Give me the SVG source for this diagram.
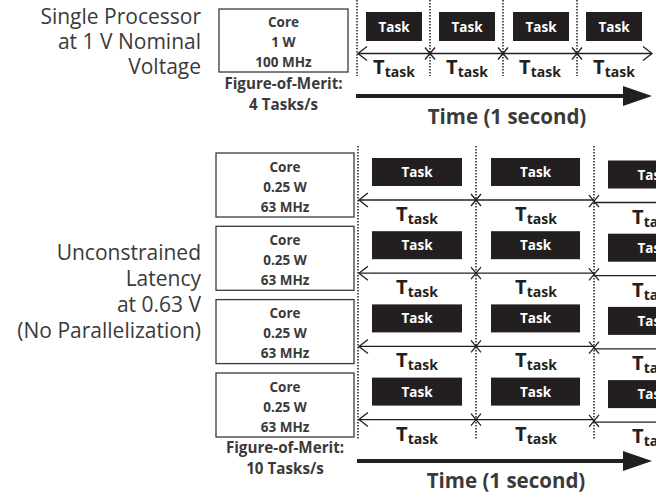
<svg xmlns="http://www.w3.org/2000/svg" width="656" height="497" viewBox="0 0 656 497">
<style>
text{font-family:"Open Sans","Liberation Sans",sans-serif;}
.lbl{font-size:21px;fill:#3a3a3a;text-anchor:end;}
.core{font-size:13.5px;font-weight:bold;fill:#3a3a3a;text-anchor:middle;}
.fom{font-size:15.2px;font-weight:bold;fill:#3a3a3a;text-anchor:middle;}
.box{fill:#fff;stroke:#3a3a3a;stroke-width:1.3;}
.task{fill:#231f20;}
.tk{font-size:13.5px;font-weight:bold;fill:#fff;text-anchor:middle;}
.tt{font-size:20px;font-weight:bold;fill:#231f20;text-anchor:middle;}
.sub{font-size:14px;}
.dot{stroke:#231f20;stroke-width:1.5;stroke-dasharray:1.5 1.5;fill:none;}
.dur{stroke:#231f20;stroke-width:1.3;fill:none;}
.time{stroke:#231f20;stroke-width:4;fill:none;marker-end:url(#solid);}
.xm{stroke:#231f20;stroke-width:1.3;fill:none;}
.title{font-size:20.5px;font-weight:bold;fill:#3a3a3a;text-anchor:middle;}
</style>
<defs>
<marker id="open" markerUnits="userSpaceOnUse" markerWidth="12" markerHeight="16" viewBox="-1 -1 12 16" refX="9" refY="7" orient="auto-start-reverse">
<path d="M0,0 L9,7 L0,14" fill="none" stroke="#231f20" stroke-width="1.3"/>
</marker>
<marker id="solid" markerUnits="userSpaceOnUse" markerWidth="30" markerHeight="22" viewBox="0 0 30 22" refX="3" refY="10" orient="auto">
<path d="M0,0 L29,10 L0,20 z" fill="#231f20"/>
</marker>
<path id="x" class="xm" d="M-5,-6 L5,6 M-5,6 L5,-6"/>
</defs>

<!-- left labels -->
<g id="label-top">
<text class="lbl" x="201" y="24">Single Processor</text>
<text class="lbl" x="201" y="49">at 1 V Nominal</text>
<text class="lbl" x="201" y="74">Voltage</text>
</g>
<g id="label-bottom">
<text class="lbl" x="201" y="260">Unconstrained</text>
<text class="lbl" x="201" y="286">Latency</text>
<text class="lbl" x="201" y="312">at 0.63 V</text>
<text class="lbl" x="201" y="338">(No Parallelization)</text>
</g>

<!-- top core -->
<g id="core-top">
<rect class="box" x="219" y="9" width="129" height="63"/>
<text class="core" x="283.5" y="27">Core</text>
<text class="core" x="283.5" y="47">1 W</text>
<text class="core" x="283.5" y="67">100 MHz</text>
</g>
<g id="fom-top">
<text class="fom" x="283.5" y="89">Figure-of-Merit:</text>
<text class="fom" x="283.5" y="110">4 Tasks/s</text>
</g>

<!-- bottom cores -->
<g id="core-b1">
<rect class="box" x="216" y="153" width="138" height="64"/>
<text class="core" x="285" y="171.5">Core</text>
<text class="core" x="285" y="191.5">0.25 W</text>
<text class="core" x="285" y="211.5">63 MHz</text>
</g>
<g id="core-b2">
<rect class="box" x="216" y="226.3" width="138" height="64"/>
<text class="core" x="285" y="244.8">Core</text>
<text class="core" x="285" y="264.8">0.25 W</text>
<text class="core" x="285" y="284.8">63 MHz</text>
</g>
<g id="core-b3">
<rect class="box" x="216" y="299.6" width="138" height="64"/>
<text class="core" x="285" y="318.1">Core</text>
<text class="core" x="285" y="338.1">0.25 W</text>
<text class="core" x="285" y="358.1">63 MHz</text>
</g>
<g id="core-b4">
<rect class="box" x="216" y="373" width="138" height="64"/>
<text class="core" x="285" y="391.5">Core</text>
<text class="core" x="285" y="411.5">0.25 W</text>
<text class="core" x="285" y="431.5">63 MHz</text>
</g>
<g id="fom-bottom">
<text class="fom" x="285" y="453">Figure-of-Merit:</text>
<text class="fom" x="285" y="474">10 Tasks/s</text>
</g>

<!-- top tasks -->
<g id="tasks-top">
<rect class="task" x="366" y="12" width="56" height="29"/>
<text class="tk" x="394" y="31.5">Task</text>
<rect class="task" x="439" y="12" width="56" height="29"/>
<text class="tk" x="467" y="31.5">Task</text>
<rect class="task" x="513" y="12" width="56" height="29"/>
<text class="tk" x="541" y="31.5">Task</text>
<rect class="task" x="586" y="12" width="56" height="29"/>
<text class="tk" x="614" y="31.5">Task</text>
<text class="tt" x="394" y="74">T<tspan class="sub" dy="3">task</tspan></text>
<text class="tt" x="467" y="74">T<tspan class="sub" dy="3">task</tspan></text>
<text class="tt" x="540" y="74">T<tspan class="sub" dy="3">task</tspan></text>
<text class="tt" x="614" y="74">T<tspan class="sub" dy="3">task</tspan></text>
</g>

<!-- bottom tasks -->
<g id="tasks-row1">
<rect class="task" x="372" y="158" width="90" height="28"/>
<text class="tk" x="417" y="177">Task</text>
<rect class="task" x="491" y="158" width="89" height="28"/>
<text class="tk" x="535.5" y="177">Task</text>
<rect class="task" x="608" y="160.5" width="90" height="28"/>
<text class="tk" x="653" y="179.5">Task</text>
<text class="tt" x="417" y="221">T<tspan class="sub" dy="3">task</tspan></text>
<text class="tt" x="536" y="221">T<tspan class="sub" dy="3">task</tspan></text>
<text class="tt" x="653" y="223.5">T<tspan class="sub" dy="3">task</tspan></text>
</g>
<g id="tasks-row2">
<rect class="task" x="372" y="231.2" width="90" height="28"/>
<text class="tk" x="417" y="250.2">Task</text>
<rect class="task" x="491" y="231.2" width="89" height="28"/>
<text class="tk" x="535.5" y="250.2">Task</text>
<rect class="task" x="608" y="233.7" width="90" height="28"/>
<text class="tk" x="653" y="252.7">Task</text>
<text class="tt" x="417" y="294.2">T<tspan class="sub" dy="3">task</tspan></text>
<text class="tt" x="536" y="294.2">T<tspan class="sub" dy="3">task</tspan></text>
<text class="tt" x="653" y="296.7">T<tspan class="sub" dy="3">task</tspan></text>
</g>
<g id="tasks-row3">
<rect class="task" x="372" y="304.4" width="90" height="28"/>
<text class="tk" x="417" y="323.4">Task</text>
<rect class="task" x="491" y="304.4" width="89" height="28"/>
<text class="tk" x="535.5" y="323.4">Task</text>
<rect class="task" x="608" y="306.9" width="90" height="28"/>
<text class="tk" x="653" y="325.9">Task</text>
<text class="tt" x="417" y="367.4">T<tspan class="sub" dy="3">task</tspan></text>
<text class="tt" x="536" y="367.4">T<tspan class="sub" dy="3">task</tspan></text>
<text class="tt" x="653" y="369.9">T<tspan class="sub" dy="3">task</tspan></text>
</g>
<g id="tasks-row4">
<rect class="task" x="372" y="377.6" width="90" height="28"/>
<text class="tk" x="417" y="396.6">Task</text>
<rect class="task" x="491" y="377.6" width="89" height="28"/>
<text class="tk" x="535.5" y="396.6">Task</text>
<rect class="task" x="608" y="380.1" width="90" height="28"/>
<text class="tk" x="653" y="399.1">Task</text>
<text class="tt" x="417" y="440.6">T<tspan class="sub" dy="3">task</tspan></text>
<text class="tt" x="536" y="440.6">T<tspan class="sub" dy="3">task</tspan></text>
<text class="tt" x="653" y="443.1">T<tspan class="sub" dy="3">task</tspan></text>
</g>

<g id="time-top-label"><text class="title" x="507" y="124">Time (1 second)</text></g>
<g id="time-bottom-label"><text class="title" x="506" y="488">Time (1 second)</text></g>

<!-- connectors -->
<g id="connectors">
<line class="dot" x1="357" y1="0" x2="357" y2="76"/>
<line class="dot" x1="430" y1="0" x2="430" y2="76"/>
<line class="dot" x1="503" y1="0" x2="503" y2="76"/>
<line class="dot" x1="577" y1="0" x2="577" y2="76"/>
<line class="dur" x1="358" y1="53.5" x2="652" y2="53.5" marker-start="url(#open)" marker-end="url(#open)"/>
<use href="#x" x="430" y="53.5"/>
<use href="#x" x="503" y="53.5"/>
<use href="#x" x="577" y="53.5"/>
<line class="time" x1="356" y1="96" x2="626" y2="96"/>

<line class="dot" x1="358" y1="146" x2="358" y2="440"/>
<line class="dot" x1="476" y1="146" x2="476" y2="440"/>
<line class="dot" x1="594" y1="146" x2="594" y2="440"/>

<line class="dur" x1="359" y1="200" x2="594" y2="200" marker-start="url(#open)"/>
<line class="dur" x1="594" y1="202.5" x2="656" y2="202.5"/>
<line class="dur" x1="359" y1="273.2" x2="594" y2="273.2" marker-start="url(#open)"/>
<line class="dur" x1="594" y1="275.7" x2="656" y2="275.7"/>
<line class="dur" x1="359" y1="346.4" x2="594" y2="346.4" marker-start="url(#open)"/>
<line class="dur" x1="594" y1="348.9" x2="656" y2="348.9"/>
<line class="dur" x1="359" y1="419.6" x2="594" y2="419.6" marker-start="url(#open)"/>
<line class="dur" x1="594" y1="422.1" x2="656" y2="422.1"/>
<use href="#x" x="476" y="200"/>
<use href="#x" x="594" y="201.2"/>
<use href="#x" x="476" y="273.2"/>
<use href="#x" x="594" y="274.4"/>
<use href="#x" x="476" y="346.4"/>
<use href="#x" x="594" y="347.6"/>
<use href="#x" x="476" y="419.6"/>
<use href="#x" x="594" y="420.8"/>
<line class="time" x1="357" y1="461" x2="626" y2="461"/>
</g>
</svg>
